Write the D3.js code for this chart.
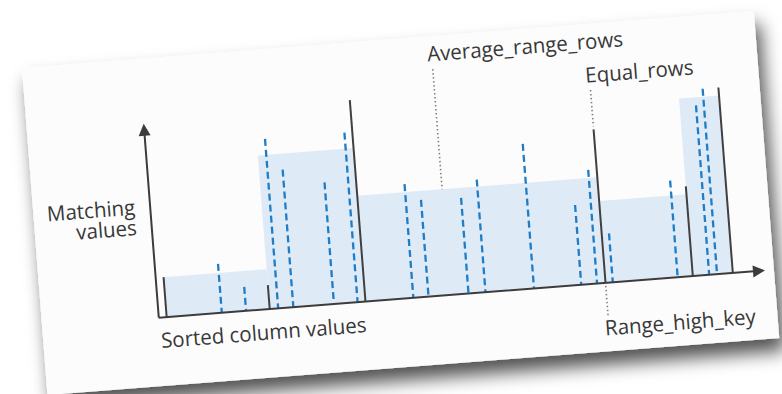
<!DOCTYPE html>
<html>
<head>
<meta charset="utf-8">
<script src="https://cdn.jsdelivr.net/npm/d3@7"></script>
<style>
  html, body { margin: 0; padding: 0; background: #ffffff; }
  svg { display: block; }
  text { font-family: "Open Sans", "Noto Sans", sans-serif; fill: #383838; }
</style>
</head>
<body>
<div id="chart"></div>
<script>
// histogram steps: boundary keys (Range_high_key) along the sorted column
const binEdges = [1.3, 18.3, 34.1, 73.7, 88.1, 94.7];
// rows equal to each boundary key (solid lines)
const equalRows = [2.0, 1.2, 10.1, 7.7, 4.5, 9.3];
// average rows per distinct value inside each step (shaded areas)
const avgRangeRows = [2.0, 7.7, 5.3, 4.1, 8.9];
// distinct values inside steps (dashed lines)
const keyPositions = [10.4, 14.4, 19.7, 22.2, 28.9, 32.8, 42.0, 44.5, 51.1, 53.9, 61.9, 69.7, 72.3, 74.9, 85.6, 90.8, 92.1];
const keyCounts = [2.45, 1.2, 8.5, 6.9, 6.1, 8.5, 5.7, 4.85, 4.8, 5.65, 7.25, 4.0, 5.7, 2.45, 4.85, 8.5, 9.3];

const width = 782, height = 394;

let svg = d3.select("#chart").append("svg")
    .attr("width", width)
    .attr("height", height);

let defs = svg.append("defs");
let shadow = defs.append("filter")
    .attr("id", "paperShadow")
    .attr("x", "-10%").attr("y", "-15%")
    .attr("width", "125%").attr("height", "150%");
shadow.append("feDropShadow")
    .attr("dx", 5).attr("dy", 13)
    .attr("stdDeviation", 9)
    .attr("flood-color", "#000")
    .attr("flood-opacity", 0.68);

// the whole sheet is tilted a little
let page = svg.append("g")
    .attr("transform", "translate(22,68) rotate(-4.45)");

page.append("rect")
    .attr("width", 734)
    .attr("height", 328)
    .attr("fill", "#fcfcfc")
    .attr("filter", "url(#paperShadow)");

let x = d3.scaleLinear().domain([0, 100]).range([117, 725]);
let y = d3.scaleLinear().domain([0, 10]).range([259.5, 59.5]);

let bins = avgRangeRows.map((v, i) => ({ x0: binEdges[i], x1: binEdges[i + 1], v: v }));

page.selectAll("rect.bin")
    .data(bins)
    .join("rect")
    .attr("class", "bin")
    .attr("x", d => x(d.x0))
    .attr("y", d => y(d.v))
    .attr("width", d => x(d.x1) - x(d.x0))
    .attr("height", d => y(0) - y(d.v))
    .attr("fill", "#deebf7");

page.selectAll("line.key")
    .data(keyPositions)
    .join("line")
    .attr("class", "key")
    .attr("x1", d => x(d)).attr("x2", d => x(d))
    .attr("y1", (d, i) => y(keyCounts[i]))
    .attr("y2", y(0))
    .attr("stroke", "#1f7cc6")
    .attr("stroke-width", 2.3)
    .attr("stroke-dasharray", "7,4");

page.selectAll("line.edge")
    .data(binEdges)
    .join("line")
    .attr("class", "edge")
    .attr("x1", d => x(d)).attr("x2", d => x(d))
    .attr("y1", (d, i) => y(equalRows[i]))
    .attr("y2", y(0))
    .attr("stroke", "#404040")
    .attr("stroke-width", 2);

// axes with arrow heads
let axisColor = "#3c3c3c";
page.append("path")
    .attr("d", `M${x(0)},${y(0)} V76 M${x(0)},${y(0)} H${x(100) - 11}`)
    .attr("fill", "none")
    .attr("stroke", axisColor)
    .attr("stroke-width", 2);
page.append("path")
    .attr("d", `M${x(0)},65 l-6,12 h12 z`)
    .attr("fill", axisColor);
page.append("path")
    .attr("d", `M${x(100)},${y(0)} l-12,-6 v12 z`)
    .attr("fill", axisColor);

// dotted call-out lines
let dotted = [
    { x: x(48.1), ya: 33, yb: y(avgRangeRows[2]) },
    { x: x(binEdges[3]), ya: 66, yb: y(equalRows[3]) - 3 },
    { x: x(binEdges[3]), ya: y(0) + 3, yb: 292 }
];
page.selectAll("line.callout")
    .data(dotted)
    .join("line")
    .attr("class", "callout")
    .attr("x1", d => d.x).attr("x2", d => d.x)
    .attr("y1", d => d.ya).attr("y2", d => d.yb)
    .attr("stroke", "#808080")
    .attr("stroke-width", 1.6)
    .attr("stroke-dasharray", "1.5,2.5");

// labels: Segoe-like proportions, a bit taller and narrower than Open Sans
const fs = 21;
let probe = page.append("text").attr("font-size", fs).text("Sorted column values");
let squeeze = 206 / probe.node().getComputedTextLength();
probe.remove();

let labels = [
    { t: "Average_range_rows", x: 405, y: 25, a: "start" },
    { t: "Equal_rows", x: 561, y: 58.5, a: "start" },
    { t: "Range_high_key", x: 561, y: 312, a: "start" },
    { t: "Sorted column values", x: 117.5, y: 290, a: "start" },
    { t: "Matching", x: 102, y: 155, a: "end" },
    { t: "values", x: 102, y: 175.5, a: "end" }
];
let txt = page.selectAll("text.lbl")
    .data(labels)
    .join("text")
    .attr("class", "lbl")
    .attr("x", d => d.x)
    .attr("y", d => d.y)
    .attr("text-anchor", d => d.a)
    .attr("font-size", fs)
    .text(d => d.t);
txt.each(function() {
    let len = this.getComputedTextLength();
    d3.select(this)
        .attr("textLength", len * squeeze)
        .attr("lengthAdjust", "spacingAndGlyphs");
});
</script>
</body>
</html>
